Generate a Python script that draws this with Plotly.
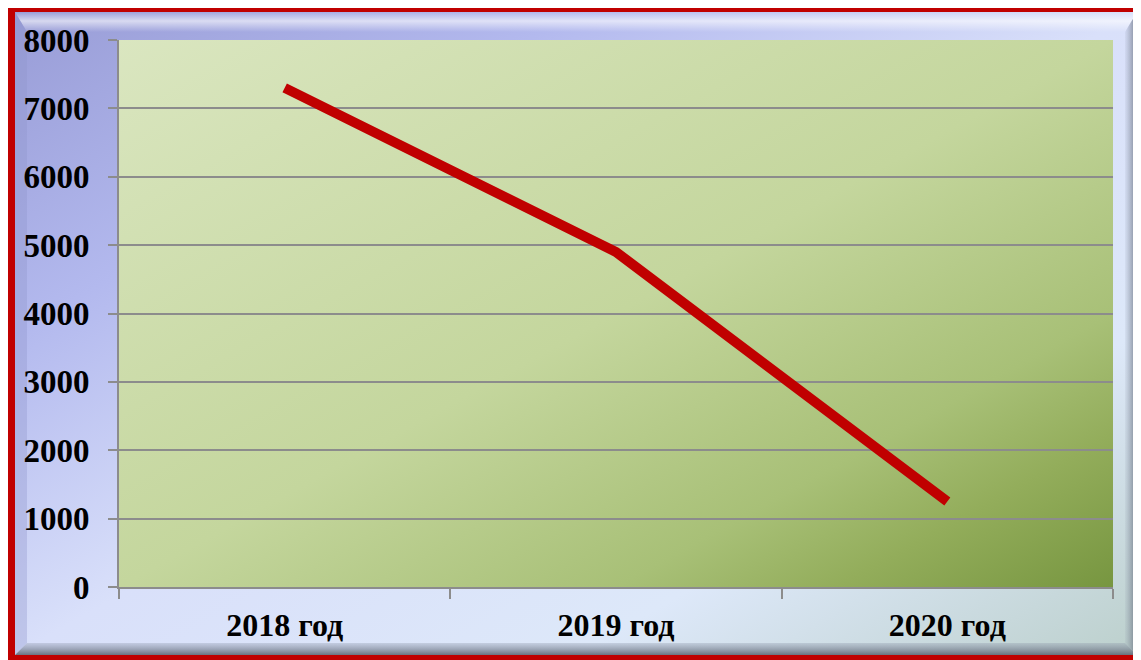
import base64
import plotly.graph_objects as go

# Data
categories = ["2018 год", "2019 год", "2020 год"]
values = [7300, 4900, 1250]
y_ticks = [0, 1000, 2000, 3000, 4000, 5000, 6000, 7000, 8000]

# The page body has an 8px margin, so the figure is drawn 8px smaller and
# every pixel position is shifted by -8 to line up with the reference.
W, H = 1133, 652
PL, PT, PR, PB = 111, 32, 1105, 579  # plot area in px (figure coords)
pw, ph = PR - PL, PB - PT

svg = f'''<svg xmlns="http://www.w3.org/2000/svg" width="{W}" height="{H}" viewBox="0 0 {W} {H}" preserveAspectRatio="none">
<defs>
<linearGradient id="frame" x1="0" y1="0" x2="1" y2="1">
<stop offset="0" stop-color="#989cd6"/>
<stop offset="0.25" stop-color="#b3b9ee"/>
<stop offset="0.5" stop-color="#d9e0fa"/>
<stop offset="0.75" stop-color="#dde8f9"/>
<stop offset="1" stop-color="#bcd0cc"/>
</linearGradient>
<linearGradient id="topb" x1="0" y1="0" x2="0" y2="1">
<stop offset="0" stop-color="#ffffff" stop-opacity="0.0"/>
<stop offset="0.45" stop-color="#ffffff" stop-opacity="0.6"/>
<stop offset="1" stop-color="#ffffff" stop-opacity="0.0"/>
</linearGradient>
<linearGradient id="botb" x1="0" y1="0" x2="0" y2="1">
<stop offset="0" stop-color="#8a93a6" stop-opacity="0.3"/>
<stop offset="1" stop-color="#5e6673" stop-opacity="0.9"/>
</linearGradient>
<linearGradient id="rightb" x1="0" y1="0" x2="1" y2="0">
<stop offset="0" stop-color="#8a93a6" stop-opacity="0.1"/>
<stop offset="1" stop-color="#5e6673" stop-opacity="0.85"/>
</linearGradient>
<linearGradient id="plot" x1="0" y1="0" x2="1" y2="1">
<stop offset="0" stop-color="#dae6c0"/>
<stop offset="0.5" stop-color="#c4d69d"/>
<stop offset="0.75" stop-color="#a8c077"/>
<stop offset="0.86" stop-color="#93ad5b"/>
<stop offset="1" stop-color="#779640"/>
</linearGradient>
</defs>
<rect x="0" y="0" width="{W}" height="{H}" fill="#c00000"/>
<rect x="7" y="4" width="1122" height="643" fill="url(#frame)"/>
<polygon points="7,4 1129,4 1117,24 19,24" fill="url(#topb)"/>
<polygon points="7,4 19,24 19,635 7,647" fill="#8f94cc" fill-opacity="0.35"/>
<polygon points="7,647 19,635 1117,635 1129,647" fill="url(#botb)"/>
<polygon points="1129,4 1117,24 1117,635 1129,647" fill="url(#rightb)"/>
<rect x="{PL}" y="{PT}" width="{pw}" height="{ph}" fill="url(#plot)"/>
</svg>'''

src = "data:image/svg+xml;base64," + base64.b64encode(svg.encode("utf-8")).decode("ascii")

fig = go.Figure()
fig.add_trace(go.Scatter(
    x=categories, y=values, mode="lines",
    line=dict(color="#c00000", width=10),
    hoverinfo="x+y", showlegend=False,
))

serif = "Liberation Serif, Times New Roman, serif"

fig.update_layout(
    width=W, height=H,
    margin=dict(l=PL, r=W - PR, t=PT, b=H - PB, pad=0),
    paper_bgcolor="#ffffff",
    plot_bgcolor="rgba(0,0,0,0)",
    font=dict(family=serif, size=28, color="#000000"),
    images=[dict(
        source=src, xref="paper", yref="paper",
        x=-PL / pw, y=1 + PT / ph, sizex=W / pw, sizey=H / ph,
        xanchor="left", yanchor="top", sizing="stretch", layer="below",
    )],
    xaxis=dict(
        type="category", range=[-0.5, 2.5], tickson="boundaries",
        showgrid=False, zeroline=False,
        showline=True, linecolor="#8c8c8c", linewidth=2,
        ticks="outside", ticklen=10, tickwidth=2, tickcolor="#8c8c8c",
        tickfont=dict(family=serif, size=32, color="#000000", weight="bold"),
        ticklabelstandoff=9,
    ),
    yaxis=dict(
        range=[0, 8000], tickvals=y_ticks, ticktext=[str(v) for v in y_ticks],
        showgrid=True, gridcolor="#8c8c8c", gridwidth=2,
        zeroline=False,
        showline=True, linecolor="#8c8c8c", linewidth=2,
        ticks="outside", ticklen=9, tickwidth=2, tickcolor="#8c8c8c",
        tickfont=dict(family=serif, size=33, color="#000000", weight="bold"),
        ticklabelstandoff=12,
    ),
)

fig.write_html("out.html")
